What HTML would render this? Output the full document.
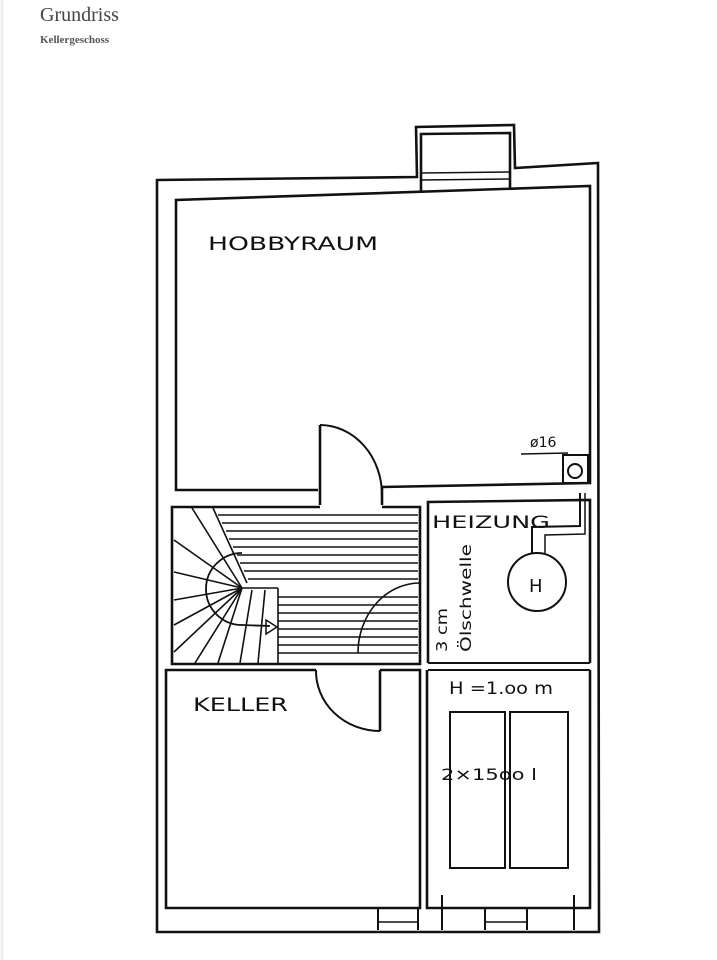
<!DOCTYPE html>
<html><head><meta charset="utf-8"><style>
html,body{margin:0;padding:0;background:#fff;}
svg{display:block}
</style></head><body>
<svg width="717" height="960" viewBox="0 0 717 960" xmlns="http://www.w3.org/2000/svg">
<rect width="717" height="960" fill="#fff"/>
<line x1="2" y1="0" x2="2" y2="960" stroke="#eee" stroke-width="3"/>
<text x="40" y="21" font-family="Liberation Serif, serif" font-size="20" fill="#444">Grundriss</text>
<text x="40" y="43" font-family="Liberation Serif, serif" font-size="11" font-weight="bold" fill="#555">Kellergeschoss</text>
<g fill="none" stroke="#111" stroke-width="2.6">
<!-- outer wall -->
<path d="M157 180 L417 177 L416 127 L514 125 L515 168 L598 163 L599 932 L157 932 Z"/>
<!-- chimney inner -->
<path d="M421 193 L421 134 L510 133 L510 188"/>
<line x1="421" y1="173" x2="510" y2="172" stroke-width="1.5"/>
<line x1="421" y1="180" x2="510" y2="179" stroke-width="1.5"/>
<!-- hobby room -->
<path d="M318 490 L176 490 L176 200 L590 186 L590 483 L382 487"/>
<!-- hobby door -->
<line x1="320" y1="425" x2="320" y2="505"/>
<path d="M320 425 A62 70 0 0 1 382 495" stroke-width="2"/>
<line x1="382" y1="487" x2="382" y2="505"/>
<!-- chimney pipe box -->
<rect x="563" y="455" width="25" height="28" stroke-width="2"/>
<circle cx="575" cy="471" r="7" stroke-width="2"/>
<line x1="521" y1="454" x2="568" y2="453" stroke-width="1.5"/>
<!-- stair box -->
<path d="M320 507 L172 507 L172 664 L420 664 L420 507 L382 507"/>
<!-- heizung -->
<path d="M428 663 L428 502 L590 500 L590 663"/>
<line x1="428" y1="663" x2="590" y2="663" stroke-width="2"/>
<line x1="428" y1="670" x2="590" y2="670" stroke-width="2"/>
<!-- lower right room -->
<path d="M427 670 L427 908 L590 908 L590 670"/>
<rect x="450" y="712" width="55" height="156" stroke-width="2"/>
<rect x="510" y="712" width="58" height="156" stroke-width="2"/>
<!-- keller -->
<path d="M316 670 L166 670 L166 908 L420 908 L420 670 L380 670"/>
<line x1="380" y1="670" x2="380" y2="731"/>
<path d="M316 670 A64 60 0 0 0 380 731" stroke-width="2"/>
<!-- bottom windows -->
<path d="M378 908 L378 930 M418 908 L418 930" stroke-width="2"/>
<line x1="378" y1="922" x2="418" y2="922" stroke-width="1.5"/>
<path d="M442 895 L442 930 M485 908 L485 930 M527 908 L527 930 M574 895 L574 930" stroke-width="2"/>
<line x1="485" y1="922" x2="527" y2="922" stroke-width="1.5"/>
<!-- heating pipes -->
<circle cx="537" cy="582" r="29" stroke-width="2"/>
<path d="M532 553 L532 527 L580 526 L580 493" stroke-width="2"/>
<path d="M545 553 L545 535 L585 534 L585 493" stroke-width="1.5"/>
</g>
<!-- stair treads -->
<g stroke="#111" stroke-width="1.6">
<line x1="218" y1="515" x2="418" y2="515"/>
<line x1="222" y1="523" x2="418" y2="523"/>
<line x1="226" y1="531" x2="418" y2="531"/>
<line x1="229" y1="539" x2="418" y2="539"/>
<line x1="233" y1="547" x2="418" y2="547"/>
<line x1="237" y1="555" x2="418" y2="555"/>
<line x1="240" y1="563" x2="418" y2="563"/>
<line x1="244" y1="571" x2="418" y2="571"/>
<line x1="248" y1="579" x2="418" y2="579"/>
<line x1="278" y1="597" x2="418" y2="597"/>
<line x1="278" y1="605" x2="418" y2="605"/>
<line x1="278" y1="613" x2="418" y2="613"/>
<line x1="278" y1="621" x2="418" y2="621"/>
<line x1="278" y1="629" x2="418" y2="629"/>
<line x1="278" y1="637" x2="418" y2="637"/>
<line x1="278" y1="645" x2="418" y2="645"/>
<line x1="278" y1="653" x2="418" y2="653"/>
<line x1="213" y1="508" x2="247" y2="583"/>
<line x1="192" y1="508" x2="242" y2="588"/>
<line x1="174" y1="540" x2="242" y2="588"/>
<line x1="174" y1="572" x2="242" y2="588"/>
<line x1="174" y1="600" x2="242" y2="588"/>
<line x1="174" y1="625" x2="242" y2="588"/>
<line x1="174" y1="652" x2="242" y2="588"/>
<line x1="195" y1="663" x2="242" y2="588"/>
<line x1="218" y1="663" x2="242" y2="588"/>
<line x1="240" y1="663" x2="252" y2="590"/>
<line x1="258" y1="663" x2="265" y2="590"/>
<line x1="242" y1="588" x2="278" y2="588"/>
<line x1="278" y1="588" x2="278" y2="663"/>
</g>
<path d="M242 553 A35 35 0 0 0 242 625 L270 626" fill="none" stroke="#111" stroke-width="1.8"/>
<path d="M266 620 L277 627 L266 634 Z" fill="none" stroke="#111" stroke-width="1.5"/>
<path d="M358 653 A62 70 0 0 1 420 583" fill="none" stroke="#111" stroke-width="1.6"/>
<g font-family="DejaVu Sans, Liberation Sans, sans-serif" fill="#111">
<text x="208" y="250" font-size="19" textLength="170" lengthAdjust="spacingAndGlyphs">HOBBYRAUM</text>
<text x="530" y="447" font-size="14">ø16</text>
<text x="432" y="528" font-size="17" textLength="118" lengthAdjust="spacingAndGlyphs">HEIZUNG</text>
<text x="529" y="592" font-size="18">H</text>
<text x="193" y="711" font-size="19" textLength="95" lengthAdjust="spacingAndGlyphs">KELLER</text>
<text x="449" y="694" font-size="17" textLength="104" lengthAdjust="spacingAndGlyphs">H =1.oo m</text>
<text x="441" y="780" font-size="16" textLength="96" lengthAdjust="spacingAndGlyphs">2×15oo l</text>
<text transform="translate(447,652) rotate(-90)" font-size="15" textLength="44" lengthAdjust="spacingAndGlyphs">3 cm</text>
<text transform="translate(471,652) rotate(-90)" font-size="15" textLength="108" lengthAdjust="spacingAndGlyphs">Ölschwelle</text>
</g>
</svg>
</body></html>
